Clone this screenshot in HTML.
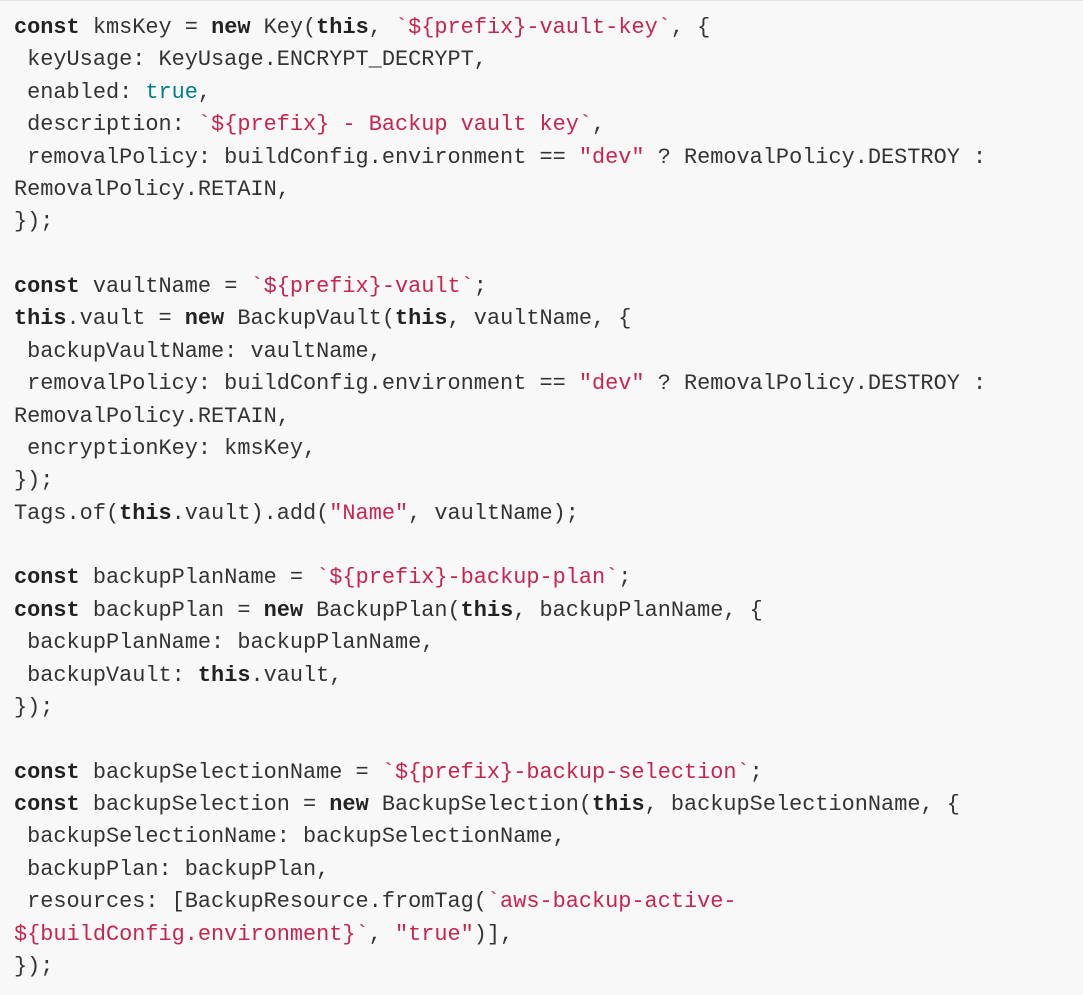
<!DOCTYPE html>
<html><head><meta charset="utf-8"><style>
html,body{margin:0;padding:0;background:#f8f8f8;}
body{width:1083px;height:995px;overflow:hidden;border-top:1px solid #e6e6e6;box-sizing:border-box;}
pre{margin:0;padding:11px 0 0 14px;font-family:"Liberation Mono","DejaVu Sans Mono",monospace;font-size:21.9px;line-height:32.37px;color:#333;white-space:pre;}
b{font-weight:bold;color:#222}
.s{color:#c7254e}
.t{color:#00808a}
</style></head><body><pre><b>const</b> kmsKey = <b>new</b> Key(<b>this</b>, <span class="s">`${prefix}-vault-key`</span>, {
 keyUsage: KeyUsage.ENCRYPT_DECRYPT,
 enabled: <span class="t">true</span>,
 description: <span class="s">`${prefix} - Backup vault key`</span>,
 removalPolicy: buildConfig.environment == <span class="s">"dev"</span> ? RemovalPolicy.DESTROY :
RemovalPolicy.RETAIN,
});

<b>const</b> vaultName = <span class="s">`${prefix}-vault`</span>;
<b>this</b>.vault = <b>new</b> BackupVault(<b>this</b>, vaultName, {
 backupVaultName: vaultName,
 removalPolicy: buildConfig.environment == <span class="s">"dev"</span> ? RemovalPolicy.DESTROY :
RemovalPolicy.RETAIN,
 encryptionKey: kmsKey,
});
Tags.of(<b>this</b>.vault).add(<span class="s">"Name"</span>, vaultName);

<b>const</b> backupPlanName = <span class="s">`${prefix}-backup-plan`</span>;
<b>const</b> backupPlan = <b>new</b> BackupPlan(<b>this</b>, backupPlanName, {
 backupPlanName: backupPlanName,
 backupVault: <b>this</b>.vault,
});

<b>const</b> backupSelectionName = <span class="s">`${prefix}-backup-selection`</span>;
<b>const</b> backupSelection = <b>new</b> BackupSelection(<b>this</b>, backupSelectionName, {
 backupSelectionName: backupSelectionName,
 backupPlan: backupPlan,
 resources: [BackupResource.fromTag(<span class="s">`aws-backup-active-
${buildConfig.environment}`</span>, <span class="s">"true"</span>)],
});</pre></body></html>
